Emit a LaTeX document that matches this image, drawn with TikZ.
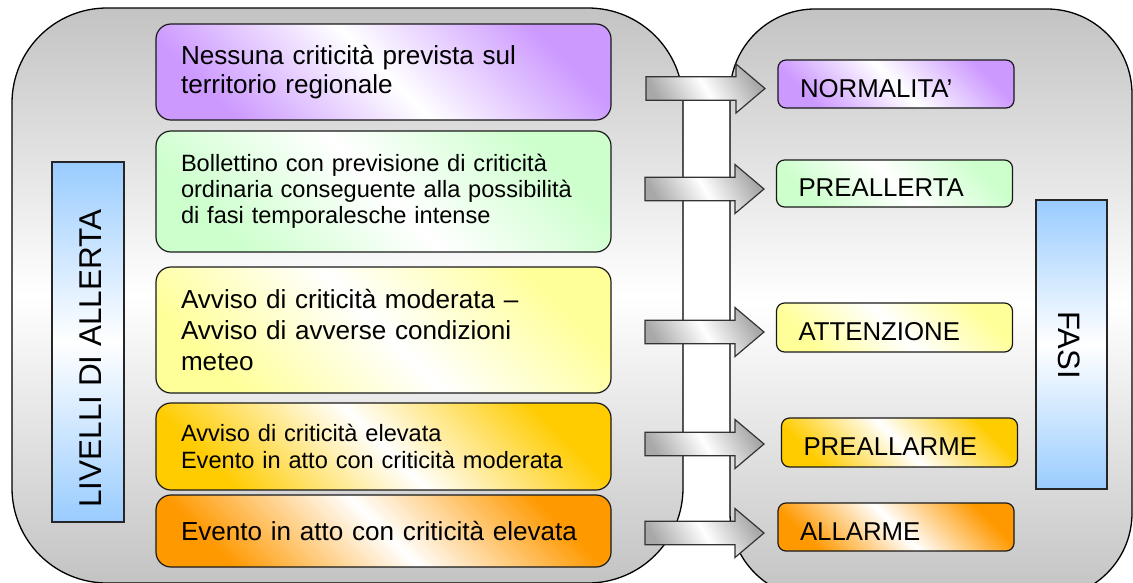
\documentclass[tikz,border=0pt]{standalone}
\usepackage{fontspec}
\setmainfont{Liberation Sans}
\usetikzlibrary{calc}
\definecolor{cpurple}{HTML}{CC99FF}
\definecolor{cgreen}{HTML}{CCFFCC}
\definecolor{cyellow}{HTML}{FFFF99}
\definecolor{cgold}{HTML}{FFCC00}
\definecolor{corange}{HTML}{FF9900}
\definecolor{cblue}{HTML}{99CCFF}
\definecolor{cpanel}{HTML}{C3C3C3}
\definecolor{carrow}{HTML}{A8A8A8}
\begin{document}
\begin{tikzpicture}[x=1pt,y=-1pt,
  panel/.style={draw=black, line width=1.3pt, rounded corners=95pt,
    top color=cpanel, bottom color=cpanel, middle color=white},
  dshade/.style={top color=#1, bottom color=#1, middle color=white, shading angle=-45},
  lbox/.style={draw=black!90, line width=1.2pt, rounded corners=15pt,
    minimum width=455pt, text width=405pt, align=left, inner xsep=25pt, inner ysep=0pt},
  bigtext/.style={font=\fontsize{26.1}{#1}\selectfont},
  smalltext/.style={font=\fontsize{23.6}{#1}\selectfont},
  rbox/.style={draw=black!90, line width=1.2pt, rounded corners=8pt,
    minimum height=48pt, text width=192pt, align=left, inner xsep=22pt, inner ysep=0pt,
    text height=26pt, text depth=0pt, font=\fontsize{25.8}{30}\selectfont},
  bluebox/.style={draw=black!85, line width=1.2pt,
    top color=cblue, bottom color=cblue, middle color=white},
  vlabel/.style={inner sep=0pt, font=\fontsize{31.5}{36}\selectfont},
  blockarrow/.style={draw=black!80, line width=1.2pt, line join=miter,
    top color=carrow, bottom color=carrow, middle color=white, shading angle=-60}
]
\useasboundingbox (0,0) rectangle (1133,582);
\clip (0,0) rectangle (1133,582);

% panels
\path[panel] (12,8) rectangle (683,583);
\path[panel, rounded corners=85pt] (730,9) rectangle (1132,598);

% blue label boxes
\node[bluebox, minimum width=72pt, minimum height=360pt] (lv) at (88,342) {};
\node[vlabel, rotate=90] (lvt) at (90.3,358.5) {LIVELLI DI ALLERTA};
\node[bluebox, minimum width=71pt, minimum height=289pt] (fb) at (1071.5,344.5) {};
\node[vlabel, rotate=-90, font=\fontsize{31}{36}\selectfont] (fbt) at (1069.4,345.3) {FASI};

% left boxes
\node[lbox, dshade=cpurple, bigtext=29.5, minimum height=96pt] (l1) at (383.5,72)
  {Nessuna criticità prevista sul\\territorio regionale};
\node[lbox, dshade=cgreen, smalltext=26, minimum height=121pt] (l2) at (383.5,191.5)
  {Bollettino con previsione di criticità\\ordinaria conseguente alla possibilità\\di fasi temporalesche intense};
\node[lbox, dshade=cyellow, bigtext=30.8, minimum height=126pt] (l3) at (383.5,330)
  {Avviso di criticità moderata –\\Avviso di avverse condizioni\\meteo};
\node[lbox, dshade=cgold, smalltext=27.3, minimum height=87pt] (l4) at (383.5,446.5)
  {Avviso di criticità elevata\\Evento in atto con criticità moderata};
\node[lbox, dshade=corange, bigtext=30, minimum height=72pt] (l5) at (383.5,531)
  {Evento in atto con criticità elevata};

% right boxes
\node[rbox, dshade=cpurple, minimum width=236pt] (r1) at (896,84) {NORMALITA’};
\node[rbox, dshade=cgreen, minimum width=235pt, minimum height=47pt] (r2) at (894.5,183.5) {PREALLERTA};
\node[rbox, dshade=cyellow, minimum width=235pt, minimum height=49pt] (r3) at (894.5,327.5) {ATTENZIONE};
\node[rbox, dshade=cgold, minimum width=235pt, minimum height=49pt] (r4) at (899.5,442.5) {PREALLARME};
\node[rbox, dshade=corange, minimum width=236pt] (r5) at (896,527) {ALLARME};

% block arrows
\coordinate (a1) at (646,88.5);
\coordinate (a2) at (645,189);
\coordinate (a3) at (645,332);
\coordinate (a4) at (645,444);
\coordinate (a5) at (645,533);
\foreach \a in {a1,a2,a3,a4,a5}{
  \path[blockarrow] (\a) ++(0,-11.7) -- ++(90,0) -- ++(0,-12.8) -- ++(29,24.5)
    -- ++(-29,24.5) -- ++(0,-12.8) -- ++(-90,0) -- cycle;
}
\end{tikzpicture}
\end{document}
